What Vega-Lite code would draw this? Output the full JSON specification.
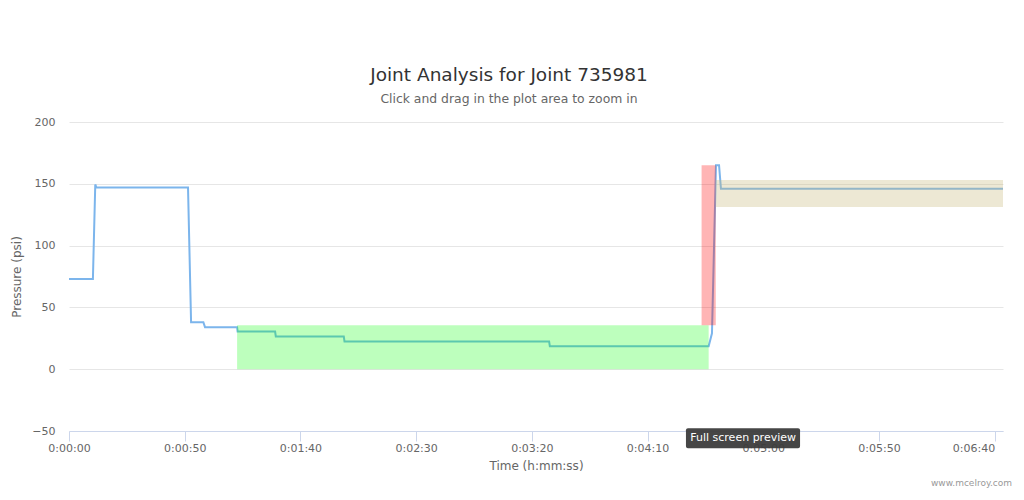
{
  "$schema": "https://vega.github.io/schema/vega-lite/v6.json",
  "autosize": {"type": "none"},
  "width": 934,
  "height": 309,
  "padding": {"left": 69, "top": 122, "right": 21, "bottom": 69},
  "background": "white",
  "config": {
    "font": "DejaVu Sans",
    "view": {"stroke": null},
    "axis": {"labelColor": "#666666", "titleColor": "#666666", "labelFontSize": 11, "titleFontSize": 12, "titleFontWeight": "normal"}
  },
  "title": {
    "text": "Joint Analysis for Joint 735981",
    "subtitle": "Click and drag in the plot area to zoom in",
    "fontSize": 18.5,
    "fontWeight": "normal",
    "color": "#333333",
    "subtitleColor": "#666666",
    "subtitleFontSize": 12.4,
    "subtitlePadding": 8,
    "anchor": "middle",
    "dx": -27,
    "offset": 11
  },
  "datasets": {
    "pressure": [
      {"t": 0, "psi": 73},
      {"t": 10.33, "psi": 73},
      {"t": 11.35, "psi": 149.5},
      {"t": 11.86, "psi": 147},
      {"t": 51.43, "psi": 147},
      {"t": 52.75, "psi": 38},
      {"t": 58.06, "psi": 38},
      {"t": 58.77, "psi": 34},
      {"t": 72.64, "psi": 34},
      {"t": 72.85, "psi": 30.5},
      {"t": 89.06, "psi": 30.5},
      {"t": 89.37, "psi": 26.5},
      {"t": 118.74, "psi": 26.5},
      {"t": 119.05, "psi": 22.5},
      {"t": 207.47, "psi": 22.5},
      {"t": 207.78, "psi": 18.5},
      {"t": 276.41, "psi": 18.5},
      {"t": 277.84, "psi": 29},
      {"t": 279.57, "psi": 165},
      {"t": 280.9, "psi": 165},
      {"t": 281.72, "psi": 146},
      {"t": 403.6, "psi": 146}
    ],
    "bands": [
      {"band": "green", "start": 72.64, "end": 276.41, "low": 0, "high": 35.5},
      {"band": "red", "start": 273.35, "end": 279.48, "low": 35.5, "high": 165},
      {"band": "tan", "start": 279.48, "end": 403.6, "low": 131.3, "high": 153}
    ],
    "tooltip": [
      {"label": "Full screen preview", "start": 266.6, "end": 315.9, "low": -47.7, "high": -63.9, "mid": 291.3, "midy": -55.9}
    ],
    "credit": [
      {"label": "www.mcelroy.com", "t": 407.5, "psi": -92}
    ]
  },
  "layer": [
    {
      "data": {"name": "pressure"},
      "mark": {"type": "line", "color": "#7cb5ec", "strokeWidth": 2, "interpolate": "linear"},
      "encoding": {
        "x": {
          "field": "t", "type": "quantitative",
          "scale": {"domain": [0, 403.6], "nice": false, "zero": false},
          "axis": {
            "title": "Time (h:mm:ss)",
            "values": [0, 50, 100, 150, 200, 250, 300, 350, 400],
            "labelExpr": "utcFormat(datum.value * 1000, '%-H:%M:%S')",
            "labelAlign": {"expr": "datum.value == 400 ? 'right' : 'center'"},
            "labelDx": {"expr": "datum.value == 400 ? 7 : 0"},
            "grid": false,
            "domainColor": "#ccd6eb",
            "tickColor": "#ccd6eb",
            "tickSize": 10,
            "labelPadding": 1,
            "titlePadding": 7,
            "labelFlush": false
          }
        },
        "y": {
          "field": "psi", "type": "quantitative",
          "scale": {"domain": [-50, 200], "nice": false, "zero": false},
          "axis": {
            "title": "Pressure (psi)",
            "values": [-50, 0, 50, 100, 150, 200],
            "domain": false,
            "ticks": false,
            "gridColor": "#e6e6e6",
            "labelPadding": 14,
            "titlePadding": 8
          }
        }
      }
    },
    {
      "data": {"name": "bands"},
      "mark": {"type": "rect"},
      "encoding": {
        "x": {"field": "start", "type": "quantitative"},
        "x2": {"field": "end"},
        "y": {"field": "low", "type": "quantitative"},
        "y2": {"field": "high"},
        "color": {"field": "band", "type": "nominal", "legend": null,
          "scale": {"domain": ["green", "red", "tan"], "range": ["#00ff00", "#ff0000", "#c8b878"]}},
        "opacity": {"field": "band", "type": "nominal", "legend": null,
          "scale": {"domain": ["green", "red", "tan"], "range": [0.26, 0.32, 0.3]}}
      }
    },
    {
      "data": {"name": "tooltip"},
      "mark": {"type": "rect", "color": "#3c3c3c", "cornerRadius": 2, "opacity": 0.95},
      "encoding": {
        "x": {"field": "start", "type": "quantitative"},
        "x2": {"field": "end"},
        "y": {"field": "low", "type": "quantitative"},
        "y2": {"field": "high"}
      }
    },
    {
      "data": {"name": "tooltip"},
      "mark": {"type": "text", "color": "white", "fontSize": 11, "align": "center", "baseline": "middle"},
      "encoding": {
        "x": {"field": "mid", "type": "quantitative"},
        "y": {"field": "midy", "type": "quantitative"},
        "text": {"field": "label"}
      }
    },
    {
      "data": {"name": "credit"},
      "mark": {"type": "text", "color": "#999999", "fontSize": 9, "align": "right", "baseline": "middle"},
      "encoding": {
        "x": {"field": "t", "type": "quantitative"},
        "y": {"field": "psi", "type": "quantitative"},
        "text": {"field": "label"}
      }
    }
  ]
}
